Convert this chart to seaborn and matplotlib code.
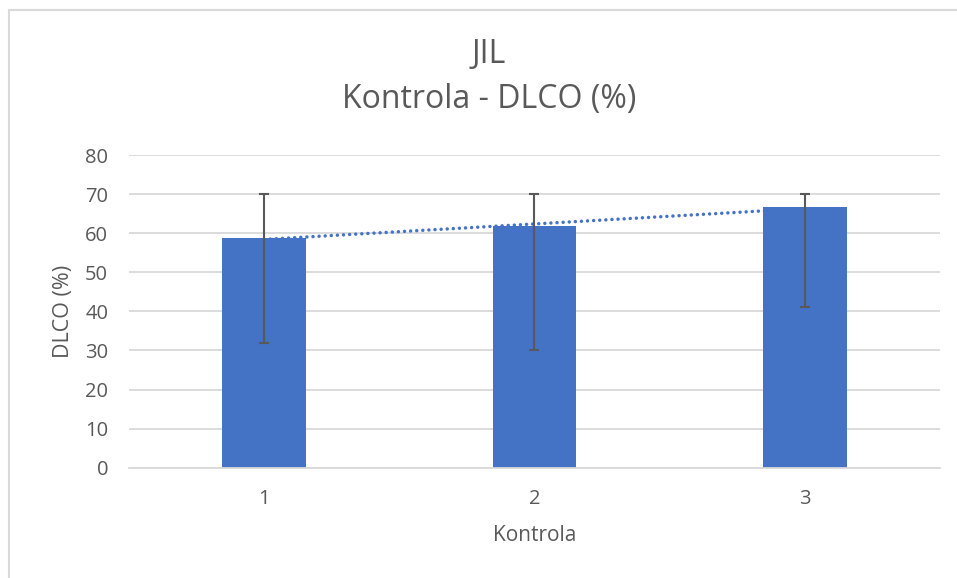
import numpy as np
import pandas as pd
import matplotlib
matplotlib.use("Agg")
import matplotlib.pyplot as plt
import seaborn as sns
from matplotlib.lines import Line2D

# data
kontrola = ["1", "2", "3"]
dlco = [58.7, 61.8, 66.6]
err_low = [32, 30, 41]
err_high = [70, 70, 70]

sns.set_style("white")
plt.rcParams['font.family'] = ['Open Sans', 'DejaVu Sans']

txt = "#595959"
bar_col = "#4472C4"
grid_col = "#D9D9D9"

df = pd.DataFrame({"Kontrola": kontrola, "DLCO": dlco})

fig = plt.figure(figsize=(9.57, 5.78), dpi=100)
ax = fig.add_axes([0.1348, 0.1908, 0.9822 - 0.1348, 0.7318 - 0.1908])

sns.barplot(data=df, x="Kontrola", y="DLCO", color=bar_col, width=0.31,
            saturation=1, errorbar=None, ax=ax, zorder=2, linewidth=0)

# error bars (min / max)
xs = np.arange(len(dlco))
vals = np.array(dlco)
yerr = [vals - np.array(err_low), np.array(err_high) - vals]
ax.errorbar(xs, vals, yerr=yerr, fmt="none", ecolor="#595959",
            elinewidth=1.5, capsize=3.5, capthick=1.5, zorder=4)

# linear trendline
k, b = np.polyfit(xs + 1, vals, 1)
ax.plot(xs, k * (xs + 1) + b, linestyle=(0, (0.01, 1.75)), color=bar_col,
        linewidth=2.5, dash_capstyle="round", zorder=3)

ax.set_xlim(-0.5, 2.5)
ax.set_ylim(0, 80)
ax.set_yticks(range(0, 81, 10))
ax.yaxis.grid(True, color=grid_col, linewidth=1.3, zorder=0)
ax.set_axisbelow(True)
for s in ["top", "right", "left"]:
    ax.spines[s].set_visible(False)
ax.spines["bottom"].set_color(grid_col)
ax.spines["bottom"].set_linewidth(1.3)
ax.tick_params(axis="both", length=0, labelsize=14.5, colors=txt)
ax.tick_params(axis="y", pad=15)
ax.tick_params(axis="x", pad=15)

ax.set_xlabel("Kontrola", fontsize=15, color=txt, labelpad=12)
ax.set_ylabel("DLCO (%)", fontsize=15.5, color=txt, labelpad=8)

fig.text(0.511, 0.905, "JIL", ha="center", va="center", fontsize=23, color=txt)
fig.text(0.511, 0.827, "Kontrola - DLCO (%)", ha="center", va="center",
         fontsize=23, color=txt)

# chart frame (left and top edges visible)
fig.add_artist(Line2D([9 / 957, 9 / 957], [0, 1 - 10 / 578],
                      transform=fig.transFigure, color="#D9D9D9", linewidth=1.5))
fig.add_artist(Line2D([9 / 957, 1], [1 - 10 / 578, 1 - 10 / 578],
                      transform=fig.transFigure, color="#D9D9D9", linewidth=1.5))

fig.savefig("out.png", dpi=100, facecolor="white")
